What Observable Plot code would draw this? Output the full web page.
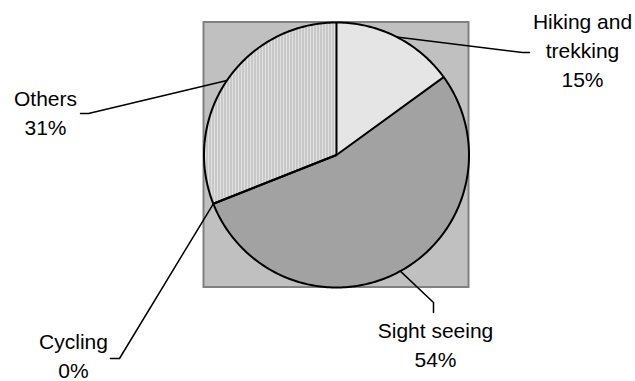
<!DOCTYPE html>
<html>
<head>
<meta charset="utf-8">
<script src="https://cdn.jsdelivr.net/npm/d3@7"></script>
<script src="https://cdn.jsdelivr.net/npm/@observablehq/plot@0.6"></script>
<style>
  html, body { margin: 0; padding: 0; background: #fff; }
  #chart svg { display: block; }
</style>
</head>
<body>
<div id="chart"></div>
<script>
// Activity shares (percent), in clockwise order from 12 o'clock
const categories = ["Hiking and trekking", "Sight seeing", "Cycling", "Others"];
const shares = [15, 54, 0, 31];
// Label wording as it is broken over lines
const labelNames = ["Hiking and\ntrekking", "Sight seeing", "Cycling", "Others"];

// Page geometry (pixels)
const W = 635, H = 381;
const CX = 336, CY = 154.5, R = 132.5;

// Leader elbows/ends and label anchors (pixels); text anchor is the centre of the last baseline
const leaderLayout = [
  { elbow: [522, 52], end: [529, 52], text: [582, 86] },
  { elbow: [433, 302], end: [433, 312], text: [435, 366] },
  { elbow: [119, 358], end: [110, 358], text: [73, 377] },
  { elbow: [88, 113], end: [80, 113], text: [45, 134] }
];

// Fill patterns, one per slice
const sliceFills = ["url(#p-hike)", "url(#p-sight)", "url(#p-cycle)", "url(#p-other)"];

// Pie coordinates are in radius units, y up, centre at (0, 0)
const toU = px => (px - CX) / R;
const toV = py => (CY - py) / R;
const polar = t => ({ x: Math.sin(t), y: Math.cos(t) });

const arcs = d3.pie().sort(null).value(d => d)(shares);

const slices = arcs.map((a, i) => {
  const span = a.endAngle - a.startAngle;
  const n = Math.max(2, Math.ceil(span / (Math.PI / 180)));
  const pts = [{ slice: i, x: 0, y: 0 }];
  for (let k = 0; k <= n; k++) {
    pts.push({ slice: i, ...polar(a.startAngle + span * k / n) });
  }
  return pts;
});

const outline = d3.range(0, 361).map(k => polar(k * Math.PI / 180));

const radii = arcs.map(a => ({ x2: Math.sin(a.startAngle), y2: Math.cos(a.startAngle) }));

const leaders = arcs.flatMap((a, i) => {
  const mid = polar((a.startAngle + a.endAngle) / 2);
  const L = leaderLayout[i];
  return [
    { slice: i, x: mid.x, y: mid.y },
    { slice: i, x: toU(L.elbow[0]), y: toV(L.elbow[1]) },
    { slice: i, x: toU(L.end[0]), y: toV(L.end[1]) }
  ];
});

const labels = categories.map((c, i) => ({
  category: c,
  text: `${labelNames[i]}\n${shares[i]}%`,
  x: toU(leaderLayout[i].text[0]),
  y: toV(leaderLayout[i].text[1])
}));

const plotArea = [{ x1: -1, x2: 1, y1: -1, y2: 1 }];

const chart = Plot.plot({
  width: W,
  height: H,
  margin: 0,
  style: { fontFamily: "'Liberation Sans', Arial, sans-serif", background: "#fff" },
  x: { domain: [toU(0), toU(W)], range: [0, W], axis: null },
  y: { domain: [toV(H), toV(0)], range: [H, 0], axis: null },
  marks: [
    Plot.rect(plotArea, { x1: "x1", x2: "x2", y1: "y1", y2: "y2", fill: "#c0c0c0", stroke: "#808080", strokeWidth: 2 }),
    ...slices.map((pts, i) => Plot.line(pts, { x: "x", y: "y", fill: sliceFills[i], stroke: "none", curve: "linear-closed" })),
    Plot.link(radii, { x1: 0, y1: 0, x2: "x2", y2: "y2", stroke: "#000", strokeWidth: 2 }),
    Plot.line(outline, { x: "x", y: "y", stroke: "#000", strokeWidth: 2 }),
    Plot.line(leaders, { x: "x", y: "y", z: "slice", stroke: "#000", strokeWidth: 1.5 }),
    Plot.text(labels, {
      x: "x", y: "y", text: "text",
      textAnchor: "middle", lineAnchor: "bottom",
      fontSize: 21, lineHeight: 29 / 21, fill: "#000"
    })
  ]
});

// Hatch patterns used by the slice fills
const defs = d3.select(chart).insert("defs", ":first-child");
function pattern(id, w, h, cells) {
  const p = defs.append("pattern").attr("id", id).attr("patternUnits", "userSpaceOnUse")
    .attr("width", w).attr("height", h);
  cells.forEach(([x, y, cw, ch, c]) => p.append("rect").attr("x", x).attr("y", y)
    .attr("width", cw).attr("height", ch).attr("fill", c).attr("shape-rendering", "crispEdges"));
}
pattern("p-hike", 2, 2, [[0, 0, 2, 2, "#eeeeee"], [0, 0, 1, 1, "#c8c8c8"]]);
pattern("p-sight", 2, 2, [[0, 0, 2, 2, "#bcbcbc"], [0, 0, 1, 1, "#888888"], [1, 1, 1, 1, "#888888"]]);
pattern("p-cycle", 2, 2, [[0, 0, 2, 2, "#808080"]]);
pattern("p-other", 3, 3, [[0, 0, 3, 3, "#e0e0e0"], [2, 0, 1, 3, "#b0b0b0"]]);

document.getElementById("chart").appendChild(chart);
</script>
</body>
</html>
